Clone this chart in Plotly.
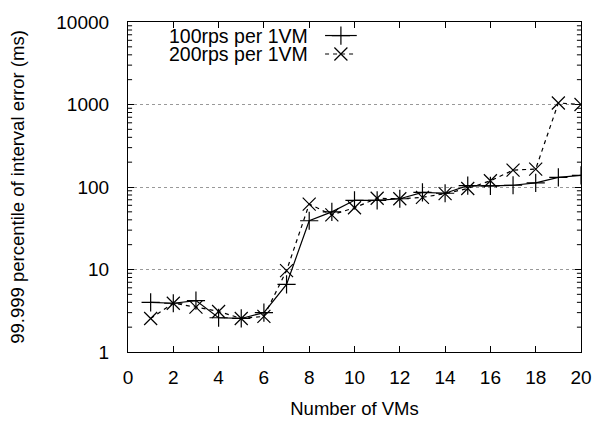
import plotly.graph_objects as go

vms = list(range(1, 21))
rps100 = [4.0, 3.9, 4.2, 2.6, 2.55, 3.0, 6.6, 39, 50, 69, 69, 72, 86, 84, 104, 103, 105, 112, 131, 138]
rps200 = [2.55, 3.9, 3.5, 3.1, 2.55, 2.7, 9.7, 62, 46, 56, 73, 72, 75, 83, 96, 119, 160, 165, 1044, 1000]
names = ["100rps per 1VM", "200rps per 1VM"]
x_ticks = list(range(0, 21, 2))
y_minor = [k * 10 ** n for n in range(4) for k in range(2, 10)]

FONT = "Liberation Sans, Arial, sans-serif"
FS = 19

fig = go.Figure()
fig.add_trace(go.Scatter(x=vms, y=rps100, mode="lines+markers", name=names[0],
                         line=dict(color="black", width=1.2),
                         marker=dict(symbol="cross-thin-open", size=13, color="black",
                                     line=dict(width=1.2, color="black")),
                         showlegend=False))
fig.add_trace(go.Scatter(x=vms, y=rps200, mode="lines+markers", name=names[1],
                         line=dict(color="black", width=1.2, dash="4px,4px"),
                         marker=dict(symbol="x-thin-open", size=13, color="black",
                                     line=dict(width=1.2, color="black")),
                         showlegend=False))

# minor log ticks on left and right borders (x2 is 0..1 across the plot width)
mx, my = [], []
for v in y_minor:
    for x0, x1 in [(0, 0.009), (0.991, 1)]:
        mx += [x0, x1, None]
        my += [v, v, None]
fig.add_trace(go.Scatter(x=mx, y=my, mode="lines", line=dict(color="black", width=1),
                         xaxis="x2", yaxis="y", showlegend=False, hoverinfo="skip",
                         connectgaps=False))

# legend samples (on overlay axes with fixed 0..1 range)
leg_y = [0.959, 0.903]
styles = [("solid", "cross-thin-open"), ("4px,4px", "x-thin-open")]
for i in range(2):
    fig.add_trace(go.Scatter(x=[0.435, 0.47, 0.505], y=[leg_y[i]] * 3, mode="lines",
                             line=dict(color="black", width=1.2, dash=styles[i][0]),
                             xaxis="x2", yaxis="y2", showlegend=False, hoverinfo="skip"))
    fig.add_trace(go.Scatter(x=[0.47], y=[leg_y[i]], mode="markers",
                             marker=dict(symbol=styles[i][1], size=13, color="black",
                                         line=dict(width=1.2, color="black")),
                             xaxis="x2", yaxis="y2", showlegend=False, hoverinfo="skip"))
    fig.add_annotation(x=0.402, y=leg_y[i], xref="paper", yref="paper", text=names[i],
                       showarrow=False, xanchor="right", yanchor="middle",
                       font=dict(family=FONT, size=19.5, color="black"))

fig.update_layout(
    width=604, height=428,
    margin=dict(l=128, r=16, t=18, b=66),
    plot_bgcolor="white", paper_bgcolor="white",
    font=dict(family=FONT, size=FS, color="black"),
    xaxis=dict(range=[0, 20], tickvals=x_ticks, ticks="inside", ticklen=6,
               tickcolor="black", showline=True, linecolor="black", linewidth=1.2,
               mirror="ticks", showgrid=False, zeroline=False, ticklabelstandoff=8,
               title=dict(text="Number of VMs", standoff=15, font=dict(size=18.5))),
    yaxis=dict(type="log", range=[0, 4], tickmode="linear", tick0=0, dtick=1, tickformat="d",
               ticks="inside", ticklen=6, tickcolor="black",
               showline=True, linecolor="black", linewidth=1.2, mirror="ticks",
               showgrid=True, gridcolor="#999999", griddash="dot", gridwidth=1,
               zeroline=False, ticklabelstandoff=14,
               title=dict(text="99.999 percentile of interval error (ms)", standoff=26,
                          font=dict(size=18.5))),
    xaxis2=dict(overlaying="x", range=[0, 1], visible=False, fixedrange=True),
    yaxis2=dict(overlaying="y", range=[0, 1], visible=False, fixedrange=True),
)

fig.write_html("out.html")
